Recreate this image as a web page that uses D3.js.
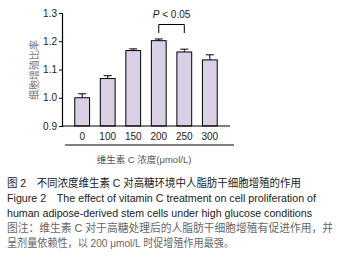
<!DOCTYPE html>
<html><head><meta charset="utf-8">
<script src="https://cdn.jsdelivr.net/npm/d3@7"></script>
<style>body{margin:0;background:#fff}svg{display:block}</style>
</head><body>
<script>
const categories = ["0","100","150","200","250","300"];
const values = [1.000, 1.068, 1.167, 1.202, 1.162, 1.134];
const errors = [0.014, 0.010, 0.006, 0.006, 0.010, 0.018];
const yTicks = [0.9, 1.0, 1.1, 1.2, 1.3];
const yLabel = "细胞增殖比率";
const xLabel = "维生素 C 浓度(μmol/L)";
const sigLabel = "< 0.05";
const captionLines = [
  "图 2　不同浓度维生素 C 对高糖环境中人脂肪干细胞增殖的作用",
  "Figure 2　The effect of vitamin C treatment on cell proliferation of",
  "human adipose-derived stem cells under high glucose conditions",
  "图注：维生素 C 对于高糖处理后的人脂肪干细胞增殖有促进作用，并",
  "呈剂量依赖性，以 200 μmol/L 时促增殖作用最强。"
];

const W = 339, H = 263;
const svg = d3.select("body").append("svg").attr("width", W).attr("height", H);
const font = "Liberation Sans, Arial, Noto Sans CJK SC, sans-serif";

const y = d3.scaleLinear().domain([0.9, 1.3]).range([126, 13]);
const x = d3.scaleBand().domain(categories).range([62, 230]).paddingInner(0.42).paddingOuter(0.5);

// bars
svg.selectAll("rect.bar").data(values).join("rect")
  .attr("x", (d,i)=>x(categories[i])).attr("width", x.bandwidth())
  .attr("y", d=>y(d)).attr("height", d=>y(0.9)-y(d))
  .attr("fill", "#d9d0e6").attr("stroke", "#000").attr("stroke-width", 1);

// error bars
const eg = svg.append("g").attr("stroke","#000").attr("stroke-width",1);
values.forEach((v,i)=>{
  const cx = x(categories[i]) + x.bandwidth()/2;
  eg.append("line").attr("x1",cx).attr("x2",cx).attr("y1",y(v)).attr("y2",y(v+errors[i]));
  eg.append("line").attr("x1",cx-4).attr("x2",cx+4).attr("y1",y(v+errors[i])).attr("y2",y(v+errors[i]));
});

// y axis
const ya = svg.append("g").attr("transform","translate(62,0)")
  .call(d3.axisLeft(y).tickValues(yTicks).tickFormat(d3.format(".1f")).tickSize(3).tickPadding(2));
ya.selectAll("text").attr("font-family", font).attr("font-size", 10).attr("fill","#222");
ya.select(".domain").attr("stroke-width",1.2);

// x axis
const xa = svg.append("g").attr("transform","translate(0,126)")
  .call(d3.axisBottom(x).tickSize(0).tickPadding(7));
xa.select(".domain").attr("d","M62,0H230").attr("stroke-width",1.2);
xa.selectAll("text").attr("font-family", font).attr("font-size", 10).attr("fill","#222");

// separator line
svg.append("line").attr("x1",65).attr("x2",234).attr("y1",145).attr("y2",145).attr("stroke","#000").attr("stroke-width",1.2);

// x label
svg.append("text").attr("x",144).attr("y",163).attr("text-anchor","middle")
  .attr("font-family", font).attr("font-size", 9.5).attr("fill","#555").text(xLabel);

// y label
svg.append("text").attr("transform","translate(38,70) rotate(-90)").attr("text-anchor","middle")
  .attr("font-family", font).attr("font-size", 10).attr("fill","#777").text(yLabel);

// significance
const c200 = x("200") + x.bandwidth()/2, c250 = x("250") + x.bandwidth()/2;
svg.append("path").attr("d",`M${c200},33V24.5H${c250}V33`).attr("fill","none").attr("stroke","#000").attr("stroke-width",1);
const st = svg.append("text").attr("x",(c200+c250)/2).attr("y",18).attr("text-anchor","middle")
  .attr("font-family", font).attr("font-size", 10).attr("fill","#222");
st.append("tspan").attr("font-style","italic").text("P");
st.append("tspan").text(" " + sigLabel);

// caption
const capY = [187, 202, 217, 232, 247];
const capW = [294, 309, 305, 326, 227];
const capSize = [11, 11, 11, 11, 11];
const capColor = ["#222","#222","#222","#666","#666"];
captionLines.forEach((t,i)=>{
  svg.append("text").attr("x",7).attr("y",capY[i]).attr("font-family", font)
    .attr("font-size", capSize[i]).attr("fill", capColor[i])
    .attr("textLength", capW[i]).attr("lengthAdjust","spacingAndGlyphs").text(t);
});
</script>
</body></html>
